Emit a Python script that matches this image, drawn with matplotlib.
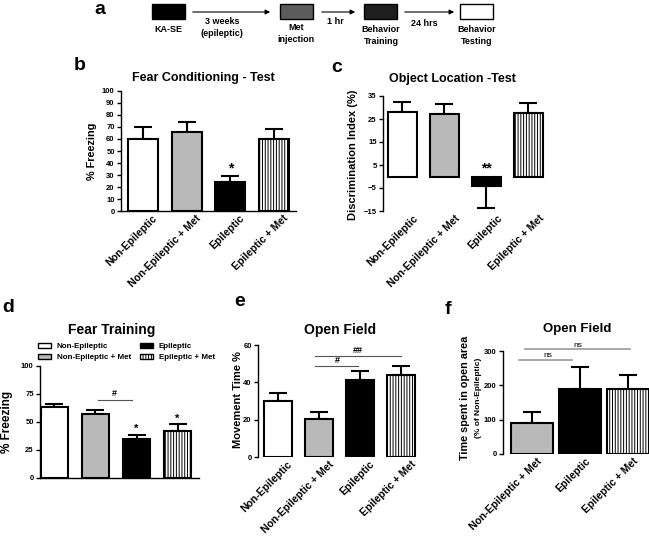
import matplotlib
matplotlib.use("Agg")
import matplotlib.pyplot as plt
from matplotlib.patches import Rectangle
import numpy as np

plt.rcParams['font.family'] = ['Liberation Sans', 'DejaVu Sans']
plt.rcParams['font.weight'] = 'bold'
plt.rcParams['hatch.linewidth'] = 0.7

W, H = 649, 538

# data
groups = ["Non-Epileptic", "Non-Epileptic + Met", "Epileptic", "Epileptic + Met"]
colors = ["white", "#b9b9b9", "black", "white"]
hatches = [None, None, None, "||||||"]

fc_test = [60, 66, 24, 60]
fc_test_err = [10, 8, 5, 8]

ol_test = [28, 27, -4, 27.5]
ol_test_err = [4.5, 4.5, 9.5, 4.5]

fear_train = [63, 57.5, 34.5, 42]
fear_train_err = [3, 3.5, 4, 6]

move_time = [30, 20.5, 41.5, 44]
move_time_err = [4.5, 3.5, 4.5, 5]

f_groups = ["Non-Epileptic + Met", "Epileptic", "Epileptic + Met"]
open_area = [90, 190, 188]
open_area_err = [33, 62, 42]

fig = plt.figure(figsize=(W / 100, H / 100), dpi=100)
ov = fig.add_axes([0, 0, 1, 1])
ov.set_xlim(0, W)
ov.set_ylim(H, 0)
ov.axis("off")


def px_axes(l, t, r, b):
    return fig.add_axes([l / W, 1 - b / H, (r - l) / W, (b - t) / H])


def bars(ax, vals, errs, cols, hats, width, xlabels, lab_shift=0.0, bottom_spine=True):
    x = np.arange(len(vals))
    out = []
    for i, v in enumerate(vals):
        lo, hi = (0, errs[i]) if v >= 0 else (errs[i], 0)
        ax.errorbar(x[i], v, yerr=[[lo], [hi]], fmt="none", ecolor="black",
                    elinewidth=1.5, capsize=6.5, capthick=1.5, zorder=1)
        bc = ax.bar(x[i], v, width, color=cols[i], edgecolor="black",
                    linewidth=1.5, hatch=hats[i], zorder=2)
        out.append(bc[0])
    # labels sit a little right of the bar centre, like Prism does
    ax.set_xticks(x + lab_shift)
    ax.set_xticklabels(xlabels, rotation=45, ha="right", va="top",
                       rotation_mode="anchor", fontsize=7.5, fontweight="bold")
    ax.tick_params(axis="x", length=0, pad=1.5)
    ax.tick_params(axis="y", direction="out", length=3, width=1,
                   labelsize=5.5, pad=1.5)
    for lab in ax.get_yticklabels():
        lab.set_fontweight("bold")
    ax.spines["top"].set_visible(False)
    ax.spines["right"].set_visible(False)
    ax.spines["left"].set_linewidth(1)
    ax.spines["bottom"].set_linewidth(1)
    if not bottom_spine:
        ax.spines["bottom"].set_visible(False)
    ax.patch.set_alpha(0)
    return out


# panel a: timeline
ov.text(100, 9, "a", fontsize=14, ha="center", va="center", fontweight="bold")
boxes = [(152, "black"), (280, "#5c5c5c"), (364, "#1e1e1e"), (460, "white")]
for bx, bc in boxes:
    ov.add_patch(Rectangle((bx, 4), 33, 15, facecolor=bc, edgecolor="black", lw=1))
for x0, x1 in [(190, 273), (319, 358), (402, 457)]:
    ov.annotate("", xy=(x1, 12), xytext=(x0, 12),
                arrowprops=dict(arrowstyle="-|>", color="black", lw=0.8,
                                mutation_scale=7))
atxt = [(168, 29, "KA-SE"), (222, 21, "3 weeks"), (222, 33, "(epileptic)"),
        (296, 27, "Met"), (296, 39, "injection"), (335, 21, "1 hr"),
        (381, 30, "Behavior"), (381, 42, "Training"), (424, 23, "24 hrs"),
        (477, 30, "Behavior"), (477, 42, "Testing")]
for tx, ty, tt in atxt:
    ov.text(tx, ty, tt, fontsize=6.5, ha="center", va="center", fontweight="bold")

# panel b
axb = px_axes(121, 91, 296, 211)
bars(axb, fc_test, fc_test_err, colors, hatches, 0.69, groups, lab_shift=0.2)
axb.set_xlim(-0.5, 3.5)
axb.set_ylim(0, 100)
axb.set_yticks(np.arange(0, 101, 10))
axb.text(2, 29.5, "*", ha="center", va="bottom", fontsize=10, fontweight="bold")
ov.text(80, 65, "b", fontsize=14, ha="center", va="center", fontweight="bold")
ov.text(203, 78, "Fear Conditioning - Test", fontsize=9, ha="center", va="center", fontweight="bold")
ov.text(92, 151, "% Freezing", fontsize=7.8, rotation=90, ha="center", va="center", fontweight="bold")

# panel c
axc = px_axes(383, 96, 549, 211)
bars(axc, ol_test, ol_test_err, colors, hatches, 0.69, groups, lab_shift=0.26,
     bottom_spine=False)
axc.set_xlim(-0.46, 3.5)
axc.set_ylim(-15, 35)
axc.set_yticks(np.arange(-15, 36, 10))
axc.text(2, 0.5, "**", ha="center", va="bottom", fontsize=10, fontweight="bold")
ov.text(337, 68, "c", fontsize=14, ha="center", va="center", fontweight="bold")
ov.text(452, 79, "Object Location -Test", fontsize=9, ha="center", va="center", fontweight="bold")
ov.text(353, 155, "Discrimination Index (%)", fontsize=8, rotation=90, ha="center", va="center", fontweight="bold")

# panel d
axd = px_axes(40, 366, 199, 478)
hd = bars(axd, fear_train, fear_train_err, colors, hatches, 0.67, [""] * 4)
axd.set_xlim(-0.35, 3.52)
axd.set_ylim(0, 100)
axd.set_yticks([0, 25, 50, 75, 100])
axd.plot([1.05, 1.9], [70, 70], color="#555555", lw=0.8)
axd.text(1.47, 71, "#", ha="center", va="bottom", fontsize=6.5, fontweight="bold")
axd.text(2, 39, "*", ha="center", va="bottom", fontsize=8, fontweight="bold")
axd.text(3, 48.5, "*", ha="center", va="bottom", fontsize=8, fontweight="bold")
leg = axd.legend(hd, groups, ncol=2, loc="upper left",
                 bbox_to_anchor=(38 / W, 1 - 343 / H), bbox_transform=fig.transFigure,
                 frameon=False, fontsize=5.8, handlelength=1.6, handleheight=0.6,
                 handletextpad=0.7, columnspacing=1.2, labelspacing=0.45,
                 borderpad=0, borderaxespad=0)
for h in leg.legend_handles:
    h.set_linewidth(1)
ov.text(8, 307, "d", fontsize=14, ha="center", va="center", fontweight="bold")
ov.text(112, 330, "Fear Training", fontsize=10, ha="center", va="center", fontweight="bold")
ov.text(7, 422, "% Freezing", fontsize=8.5, rotation=90, ha="center", va="center", fontweight="bold")

# panel e
axe = px_axes(258, 345, 422, 457)
bars(axe, move_time, move_time_err, colors, hatches, 0.68, groups, lab_shift=0.22,
     bottom_spine=False)
axe.set_xlim(-0.49, 3.5)
axe.set_ylim(0, 60)
axe.set_yticks([0, 20, 40, 60])
axe.plot([0.9, 1.95], [48.8, 48.8], color="#555555", lw=0.8)
axe.plot([0.9, 2.98], [54, 54], color="#555555", lw=0.8)
axe.text(1.44, 49.3, "#", ha="center", va="bottom", fontsize=6.5, fontweight="bold")
axe.text(1.93, 54.5, "##", ha="center", va="bottom", fontsize=6.5, fontweight="bold")
ov.text(240, 302, "e", fontsize=14, ha="center", va="center", fontweight="bold")
ov.text(340, 330, "Open Field", fontsize=10, ha="center", va="center", fontweight="bold")
ov.text(238, 400, "Movement Time %", fontsize=8, rotation=90, ha="center", va="center", fontweight="bold")

# panel f
axf = px_axes(503, 351, 652, 454)
bars(axf, open_area, open_area_err, colors[1:], hatches[1:], 0.875, f_groups,
     lab_shift=0.1, bottom_spine=False)
axf.set_xlim(-0.6, 2.5)
axf.set_ylim(0, 300)
axf.set_yticks([0, 100, 200, 300])
axf.plot([-0.27, 0.83], [275, 275], color="#999999", lw=1.2, clip_on=False)
axf.plot([-0.15, 2.04], [305, 305], color="#999999", lw=1.2, clip_on=False)
axf.text(0.33, 277, "ns", ha="center", va="bottom", fontsize=6, fontweight="normal", clip_on=False)
axf.text(0.96, 307, "ns", ha="center", va="bottom", fontsize=6, fontweight="normal", clip_on=False)
ov.text(448, 309, "f", fontsize=14, ha="center", va="center", fontweight="bold")
ov.text(577, 329, "Open Field", fontsize=9.5, ha="center", va="center", fontweight="bold")
ov.text(465, 398, "Time spent in open area", fontsize=7.8, rotation=90, ha="center", va="center", fontweight="bold")
ov.text(479, 398, "(% of Non-Epileptic)", fontsize=6, rotation=90, ha="center", va="center", fontweight="bold")

fig.savefig("out.png", dpi=100)
